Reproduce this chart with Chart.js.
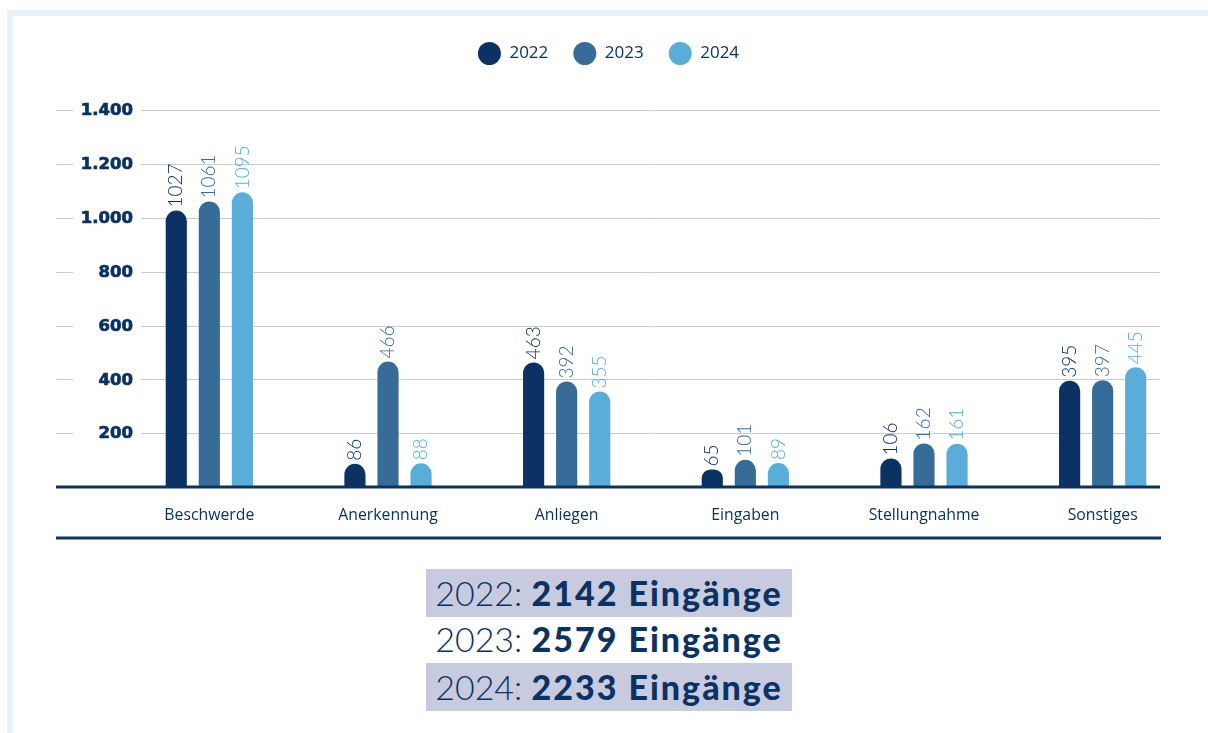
<!DOCTYPE html>
<html><head><meta charset="utf-8">
<script src="https://cdn.jsdelivr.net/npm/chart.js@4.4.1/dist/chart.umd.min.js"></script>
<style>
html,body{margin:0;padding:0;background:#fff;width:1208px;height:733px;overflow:hidden;font-family:Lato,sans-serif}
#frame{position:absolute;left:7px;top:10px;width:1300px;height:800px;border-left:6px solid #e8f0fb;border-top:6px solid #e8f0fb;}
#wrap{position:absolute;left:0;top:0;width:1208px;height:548px}
.row{position:absolute;left:426px;width:366px;height:48px;line-height:48px;font-size:34px;color:#0b3263;text-align:center;white-space:nowrap}
.row.shade{background:#c8cbe0}
.row .yr{font-weight:300}
.row b{font-weight:900;letter-spacing:2px}
</style></head><body>
<div id="frame"></div>
<div id="wrap"><canvas id="c" width="1208" height="548"></canvas></div>
<div id="summary"></div>
<script>
const categories = ['Beschwerde','Anerkennung','Anliegen','Eingaben','Stellungnahme','Sonstiges'];
const years = ['2022','2023','2024'];
const values2022 = [1027, 86, 463, 65, 106, 395];
const values2023 = [1061, 466, 392, 101, 162, 397];
const values2024 = [1095, 88, 355, 89, 161, 445];
const yTicks = [0, 200, 400, 600, 800, 1000, 1200, 1400];
const totals = [2142, 2579, 2233];
const colors = ['#0b3263', '#376b98', '#5badd9'];

const NAVY = '#0b3263';
const GRID = '#c9c9dc';

function fmt(v){
  if (v === 0) return '';
  if (v >= 1000) return Math.floor(v/1000) + '.' + String(v % 1000).padStart(3, '0');
  return String(v);
}

const decor = {
  id: 'decor',
  beforeDatasetsDraw(chart){
    const ctx = chart.ctx, y = chart.scales.y;
    ctx.save();
    ctx.strokeStyle = GRID; ctx.lineWidth = 1;
    yTicks.forEach(v => {
      if (v === 0) return;
      const py = Math.round(y.getPixelForValue(v)) + 0.5;
      ctx.beginPath();
      ctx.moveTo(56, py); ctx.lineTo(73, py);
      ctx.moveTo(141, py); ctx.lineTo(1160, py);
      ctx.stroke();
    });
    // y tick labels
    ctx.fillStyle = NAVY;
    ctx.strokeStyle = NAVY;
    ctx.lineWidth = 0.7;
    ctx.lineJoin = 'round';
    ctx.font = 'bold 16.5px "DejaVu Sans"';
    ctx.textAlign = 'right';
    ctx.textBaseline = 'middle';
    yTicks.forEach(v => {
      const t = fmt(v);
      if (t) {
        const py = y.getPixelForValue(v) + 1;
        ctx.fillText(t, 133, py);
        ctx.strokeText(t, 133, py);
      }
    });
    ctx.restore();
  },
  afterDatasetsDraw(chart){
    const ctx = chart.ctx, y = chart.scales.y;
    ctx.save();
    chart.data.datasets.forEach((ds, di) => {
      const meta = chart.getDatasetMeta(di);
      meta.data.forEach((bar, i) => {
        ctx.save();
        ctx.translate(bar.x - 1, bar.y - 3);
        ctx.rotate(-Math.PI/2);
        ctx.font = '300 19px Lato';
        ctx.fillStyle = ds.backgroundColor;
        ctx.textAlign = 'left';
        ctx.textBaseline = 'middle';
        ctx.fillText(String(ds.data[i]), 0, 1);
        ctx.restore();
      });
    });
    const p0 = y.getPixelForValue(0);
    ctx.strokeStyle = NAVY; ctx.lineWidth = 3;
    ctx.beginPath(); ctx.moveTo(56, p0); ctx.lineTo(1160, p0); ctx.stroke();
    ctx.beginPath(); ctx.moveTo(56, 538); ctx.lineTo(1161, 538); ctx.stroke();
    ctx.restore();
  }
};

new Chart(document.getElementById('c'), {
  type: 'bar',
  data: {
    labels: categories,
    datasets: [
      { label: years[0], data: values2022, backgroundColor: colors[0] },
      { label: years[1], data: values2023, backgroundColor: colors[1] },
      { label: years[2], data: values2024, backgroundColor: colors[2] }
    ].map(d => Object.assign(d, {
      borderWidth: 0,
      borderRadius: {topLeft: 11, topRight: 11, bottomLeft: 0, bottomRight: 0},
      borderSkipped: 'bottom',
      categoryPercentage: 0.555,
      barPercentage: 0.64
    }))
  },
  options: {
    responsive: false,
    animation: false,
    devicePixelRatio: 1,
    layout: { padding: { top: 20, right: 16, left: 25, bottom: 0 } },
    plugins: {
      tooltip: { enabled: false },
      title: { display: true, text: '', weight: 500, font: { size: 1 }, padding: { top: 0, bottom: 37 } },
      legend: {
        display: true,
        position: 'top',
        labels: {
          usePointStyle: true,
          pointStyle: 'circle',
          pointStyleWidth: 23,
          boxWidth: 23,
          boxHeight: 16.3,
          padding: 25,
          color: NAVY,
          font: { family: 'Open Sans', size: 17 }
        }
      }
    },
    scales: {
      x: {
        grid: { display: false, drawTicks: false },
        border: { display: false },
        ticks: { color: NAVY, font: { family: 'Open Sans', size: 15.8 }, padding: 19 },
        afterFit(s){ s.height = 61; }
      },
      y: {
        min: 0, max: 1400,
        afterBuildTicks(s){ s.ticks = yTicks.map(v => ({ value: v })); },
        grid: { display: false, drawTicks: false },
        border: { display: false },
        ticks: { display: false },
        afterFit(s){ s.width = 95; }
      }
    }
  },
  plugins: [decor]
});

const summary = document.getElementById('summary');
const tops = [569, 615, 663];
years.forEach((yr, i) => {
  const d = document.createElement('div');
  d.className = 'row' + (i !== 1 ? ' shade' : '');
  d.style.top = tops[i] + 'px';
  d.innerHTML = '<span class="yr">' + yr + ': </span><b>' + totals[i] + ' Eingänge</b>';
  summary.appendChild(d);
});
</script>
</body></html>
